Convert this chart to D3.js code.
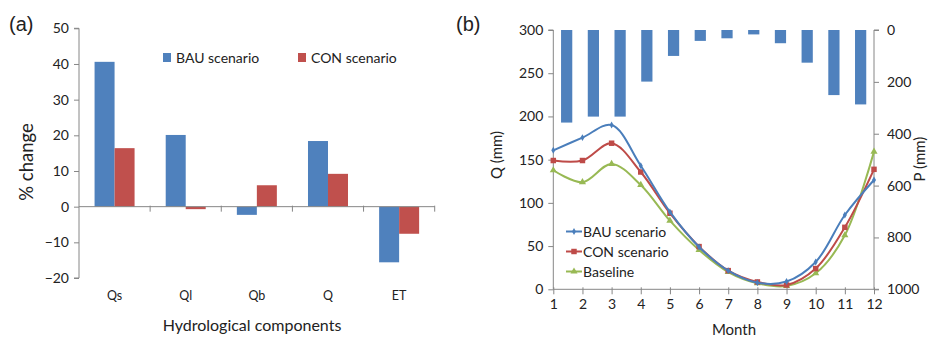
<!DOCTYPE html>
<html>
<head>
<meta charset="utf-8">
<script src="https://cdn.jsdelivr.net/npm/d3@7"></script>
<style>
  body { margin: 0; background: #fff; }
  svg text { font-family: Lato, "Open Sans", sans-serif; fill: #222; }
  .axis path, .axis line { stroke: #868686; }
</style>
</head>
<body>
<div id="chart"></div>
<script>
// panel (a): % change per component
const components = ['Qs', 'Ql', 'Qb', 'Q', 'ET'];
const bauChange = [40.6, 20.1, -2.3, 18.4, -15.6];
const conChange = [16.4, -0.7, 6.0, 9.2, -7.6];
const changeTicks = [-20, -10, 0, 10, 20, 30, 40, 50];

// panel (b): monthly flow and precipitation
const months = [1, 2, 3, 4, 5, 6, 7, 8, 9, 10, 11, 12];
const precip = [357, 334, 334, 199, 100, 42, 32, 17, 51, 126, 251, 287];
const qBau = [160.8, 175.5, 190, 143, 89.5, 49, 21.6, 7.7, 9, 31.6, 86, 126.5];
const qCon = [149, 149, 169, 135.7, 88, 49.4, 21.6, 8.5, 5, 24, 71.7, 138.8];
const qBase = [137.7, 124, 145, 120.7, 79.4, 45.5, 20, 7, 3.9, 18.5, 62.5, 159.3];
const qTicks = [0, 50, 100, 150, 200, 250, 300];
const pTicks = [0, 200, 400, 600, 800, 1000];

const blue = '#4f81bd', red = '#c0504d';
const lineBlue = '#4a7ebb', lineRed = '#be4b48', lineGreen = '#98b954';

const svg = d3.select('#chart').append('svg')
    .attr('width', 928)
    .attr('height', 337);

// ---------- (a) ----------
const a = svg.append('g');
const xa = d3.scaleBand().domain(components).range([79, 434.7]);
const ya = d3.scaleLinear().domain([-20, 50]).range([278, 28.3]);

// y axis
a.append('g').attr('class', 'axis')
    .attr('transform', 'translate(79,0)')
    .call(d3.axisLeft(ya).tickValues(changeTicks).tickSize(5).tickPadding(5))
    .call(g => g.selectAll('text').style('font-size', '14px'))
    .call(g => g.select('.domain').attr('d', `M-5,${ya(50)}H0V${ya(-20)}H-5`));

// bars
const half = 20;
a.append('g').selectAll('rect.bau')
    .data(components)
    .join('rect')
    .attr('x', d => xa(d) + xa.bandwidth() / 2 - half)
    .attr('y', (d, i) => ya(Math.max(0, bauChange[i])))
    .attr('width', half)
    .attr('height', (d, i) => Math.abs(ya(bauChange[i]) - ya(0)))
    .attr('fill', blue);
a.append('g').selectAll('rect.con')
    .data(components)
    .join('rect')
    .attr('x', d => xa(d) + xa.bandwidth() / 2)
    .attr('y', (d, i) => ya(Math.max(0, conChange[i])))
    .attr('width', half)
    .attr('height', (d, i) => Math.abs(ya(conChange[i]) - ya(0)))
    .attr('fill', red);

// zero line with category boundary ticks
const zero = a.append('g').attr('class', 'axis');
zero.append('line')
    .attr('x1', 79).attr('x2', xa.range()[1])
    .attr('y1', ya(0)).attr('y2', ya(0));
zero.selectAll('line.tk')
    .data(components)
    .join('line')
    .attr('x1', d => xa(d) + xa.bandwidth())
    .attr('x2', d => xa(d) + xa.bandwidth())
    .attr('y1', ya(0) - 1).attr('y2', ya(0) + 5);

// category labels
a.append('g').selectAll('text')
    .data(components)
    .join('text')
    .attr('x', d => xa(d) + xa.bandwidth() / 2)
    .attr('y', 300)
    .attr('text-anchor', 'middle')
    .style('font-size', '12.5px')
    .text(d => d);

a.append('text').attr('x', 252).attr('y', 331)
    .attr('text-anchor', 'middle').style('font-size', '16px')
    .text('Hydrological components');
a.append('text')
    .attr('transform', 'translate(33,162) rotate(-90)')
    .attr('text-anchor', 'middle').style('font-size', '18.5px')
    .text('% change');
a.append('text').attr('x', 9).attr('y', 31)
    .style('font-family', '"Liberation Sans", Arial, sans-serif')
    .style('font-size', '20px')
    .text('(a)');

// legend (a)
const legA = [['BAU scenario', blue, 163], ['CON scenario', red, 298]];
legA.forEach(([label, col, x]) => {
    a.append('rect').attr('x', x).attr('y', 53).attr('width', 8).attr('height', 9).attr('fill', col);
    a.append('text').attr('x', x + 13).attr('y', 62.5).style('font-size', '14px').text(label);
});

// ---------- (b) ----------
const b = svg.append('g');
const xb = d3.scaleLinear().domain([1, 12]).range([553.3, 874]);
const yq = d3.scaleLinear().domain([0, 300]).range([289.3, 30]);
const yp = d3.scaleLinear().domain([0, 1000]).range([30, 289.3]);
const xp = d3.scaleBand().domain(months).range([553.3, 874]).paddingInner(0.58).paddingOuter(0.29);

// precipitation bars hanging from the top
b.append('g').selectAll('rect')
    .data(months)
    .join('rect')
    .attr('x', d => xp(d))
    .attr('y', yp(0))
    .attr('width', xp.bandwidth())
    .attr('height', (d, i) => yp(precip[i]) - yp(0))
    .attr('fill', blue);

// axes
b.append('g').attr('class', 'axis')
    .attr('transform', 'translate(553.3,0)')
    .call(d3.axisLeft(yq).tickValues(qTicks).tickSize(5).tickPadding(5))
    .call(g => g.selectAll('text').style('font-size', '14px'))
    .call(g => g.select('.domain').attr('d', `M-5,${yq(300)}H0V${yq(0)}`));
b.append('g').attr('class', 'axis')
    .attr('transform', 'translate(874,0)')
    .call(d3.axisRight(yp).tickValues(pTicks).tickSize(5).tickPadding(8).tickFormat(d3.format('d')))
    .call(g => g.selectAll('text').style('font-size', '14px'))
    .call(g => g.select('.domain').attr('d', `M5,${yp(0)}H0V${yp(1000)}H5`));
b.append('g').attr('class', 'axis')
    .attr('transform', `translate(0,${yq(0)})`)
    .call(d3.axisBottom(xb).tickValues(months).tickSize(5).tickPadding(5).tickFormat(d3.format('d')))
    .call(g => g.selectAll('text').style('font-size', '14px'))
    .call(g => g.select('.domain').attr('d', `M${xb(1)},0H${xb(12)}`))
    .call(g => g.selectAll('.tick line').attr('y1', -2));

// smooth lines
const series = [
    { name: 'BAU scenario', vals: qBau, col: lineBlue, mark: 'diamond' },
    { name: 'CON scenario', vals: qCon, col: lineRed, mark: 'square' },
    { name: 'Baseline', vals: qBase, col: lineGreen, mark: 'triangle' }
];
const line = d3.line()
    .x((d, i) => xb(months[i]))
    .y(d => yq(d))
    .curve(d3.curveCatmullRom.alpha(0.5));
const symType = { diamond: d3.symbolDiamond, square: d3.symbolSquare, triangle: d3.symbolTriangle };
const symSize = { diamond: 14, square: 30, triangle: 22 };

series.slice().reverse().forEach(s => {
    b.append('path').datum(s.vals)
        .attr('d', line)
        .attr('fill', 'none')
        .attr('stroke', s.col)
        .attr('stroke-width', 2);
    b.append('g').selectAll('path')
        .data(s.vals)
        .join('path')
        .attr('transform', (d, i) => `translate(${xb(months[i])},${yq(d)})`)
        .attr('d', d3.symbol(symType[s.mark], symSize[s.mark]))
        .attr('fill', s.col);
});

// legend (b)
series.forEach((s, i) => {
    const y = 231.5 + i * 20;
    b.append('line').attr('x1', 566).attr('x2', 582).attr('y1', y).attr('y2', y)
        .attr('stroke', s.col).attr('stroke-width', 2);
    b.append('path').attr('transform', `translate(574,${y})`)
        .attr('d', d3.symbol(symType[s.mark], symSize[s.mark]))
        .attr('fill', s.col);
    b.append('text').attr('x', 583).attr('y', y + 5).style('font-size', '14px').text(s.name);
});

b.append('text').attr('x', 734).attr('y', 335)
    .attr('text-anchor', 'middle').style('font-size', '15px').text('Month');
b.append('text')
    .attr('transform', 'translate(502,155) rotate(-90)')
    .attr('text-anchor', 'middle').style('font-size', '15px').text('Q (mm)');
b.append('text')
    .attr('transform', 'translate(925,159) rotate(-90)')
    .attr('text-anchor', 'middle').style('font-size', '15px').text('P (mm)');
b.append('text').attr('x', 456).attr('y', 31)
    .style('font-family', '"Liberation Sans", Arial, sans-serif')
    .style('font-size', '20px')
    .text('(b)');
</script>
</body>
</html>
